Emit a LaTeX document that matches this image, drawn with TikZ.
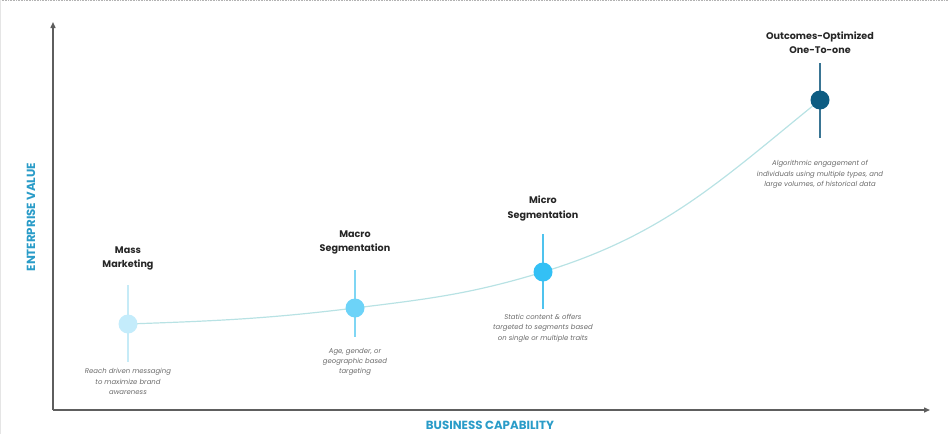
\documentclass[tikz,border=0pt]{standalone}
\usepackage{fontspec}
\setmainfont{Poppins}
\usetikzlibrary{arrows.meta}
\definecolor{axisgray}{HTML}{5E5E5E}
\definecolor{labelblue}{HTML}{2A9CC8}
\definecolor{curvecol}{HTML}{B8E2E4}
\definecolor{descgray}{HTML}{6A6A6A}
\definecolor{cA}{HTML}{C4ECFB}
\definecolor{cB}{HTML}{6DD3F8}
\definecolor{cC}{HTML}{33C0F5}
\definecolor{cD}{HTML}{0D5C82}
\definecolor{lA}{HTML}{C6EBF7}
\definecolor{lB}{HTML}{7FD6F4}
\definecolor{lC}{HTML}{4FC3EE}
\definecolor{lD}{HTML}{3A7594}
\begin{document}
\begin{tikzpicture}[x=1pt,y=-1pt,
  axis/.style={draw=axisgray,line width=1.4pt,-{Triangle[length=6pt,width=5pt]}},
  dot/.style={circle,inner sep=0pt,minimum size=19pt},
  stem/.style={line width=1.15pt},
  title/.style={font=\bfseries\fontsize{9.6}{14.5}\selectfont,align=center,text=black!85},
  desc/.style={font=\itshape\fontsize{6.9}{10.3}\selectfont,align=center,text=descgray},
  axlabel/.style={font=\bfseries\fontsize{11.8}{13}\selectfont,text=labelblue}]
\useasboundingbox (0,0) rectangle (948,434);
\draw[gray!60,densely dotted,line width=0.6pt] (0,0.5) -- (948,0.5);
\draw[gray!20,line width=0.6pt] (0.5,0) -- (0.5,434);
% axes
\coordinate (O) at (53,410);
\coordinate (Ytop) at (53,22);
\coordinate (Xend) at (930,410);
\draw[axis] (O) -- (Ytop);
\draw[axis] (O) -- (Xend);
\node[axlabel,rotate=90] (ylab) at (31,217) {ENTERPRISE VALUE};
\node[axlabel] (xlab) at (490,425) {BUSINESS CAPABILITY};
% points
\coordinate (pA) at (128,324);
\coordinate (pB) at (355,308);
\coordinate (pC) at (543,272);
\coordinate (pD) at (820,100);
% curve
\draw[curvecol,line width=1.2pt] (pA) to[out=2,in=187] (pB) to[out=7,in=197] (pC) to[out=17,in=219] (pD);
% stems
\coordinate (tA) at (128,285); \coordinate (bA) at (128,362);
\coordinate (tB) at (355,270); \coordinate (bB) at (355,337);
\coordinate (tC) at (543,234); \coordinate (bC) at (543,309);
\coordinate (tD) at (820,63);  \coordinate (bD) at (820,138);
\draw[stem,draw=lA] (tA) -- (bA);
\draw[stem,draw=lB] (tB) -- (bB);
\draw[stem,draw=lC] (tC) -- (bC);
\draw[stem,draw=lD] (tD) -- (bD);
\node[dot,fill=cA] (mass) at (pA) {};
\node[dot,fill=cB] (macro) at (pB) {};
\node[dot,fill=cC] (micro) at (pC) {};
\node[dot,fill=cD] (one) at (pD) {};
% titles
\node[title] (tmass) at (128,258.5) {Mass\\Marketing};
\node[title] (tmacro) at (355,242.5) {Macro\\Segmentation};
\node[title] (tmicro) at (543,208.5) {Micro\\Segmentation};
\node[title] (tone) at (820,42.5) {Outcomes-Optimized\\One-To-one};
% descriptions
\node[desc] (dmass) at (128,381.5) {Reach driven messaging\\to maximize brand\\awareness};
\node[desc] (dmacro) at (355,362) {Age, gender, or\\geographic based\\targeting};
\node[desc] (dmicro) at (543,328) {Static content \& offers\\targeted to segments based\\on single or multiple traits};
\node[desc] (done) at (820,174.5) {Algorithmic engagement of\\individuals using multiple types, and\\large volumes, of historical data};
\end{tikzpicture}
\end{document}
